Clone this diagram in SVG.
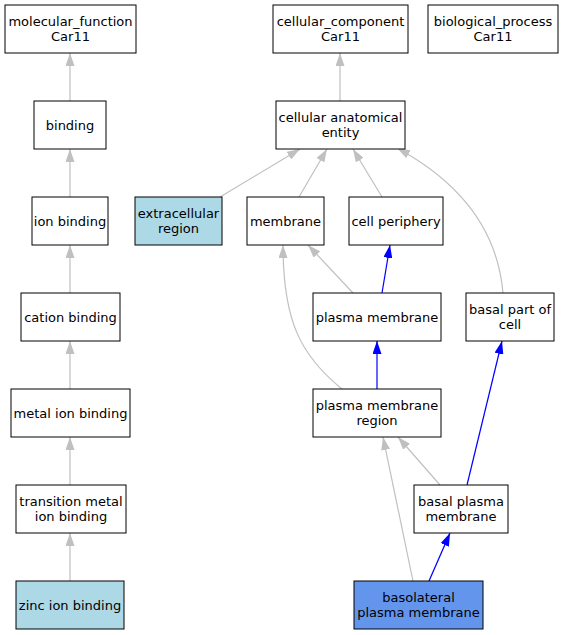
<svg xmlns="http://www.w3.org/2000/svg" width="563" height="635" viewBox="0 0 563 635">
<style>
.n rect{stroke:#000;stroke-width:1;fill:#fff}
.n text{font-family:"DejaVu Sans",sans-serif;font-size:13px;text-anchor:middle;fill:#000}
.g{stroke:#c0c0c0;stroke-width:1.2;fill:none}
.b{stroke:#0000ff;stroke-width:1.2;fill:none}
.g{marker-end:url(#ag)}
.b{marker-end:url(#ab)}
</style>
<defs>
<marker id="ag" viewBox="0 0 13 9" refX="13" refY="4.5" markerWidth="13" markerHeight="9" markerUnits="userSpaceOnUse" orient="auto"><path d="M0,0 L13,4.5 L0,9 z" fill="#c0c0c0"/></marker>
<marker id="ab" viewBox="0 0 13 9" refX="13" refY="4.5" markerWidth="13" markerHeight="9" markerUnits="userSpaceOnUse" orient="auto"><path d="M0,0 L13,4.5 L0,9 z" fill="#0000ff"/></marker>
</defs>
<rect width="563" height="635" fill="#fff"/>
<g id="edges">
<path class="g" d="M70,101 L70,53"/>
<path class="g" d="M70,197 L70,149"/>
<path class="g" d="M70,293 L70,245"/>
<path class="g" d="M70,389 L70,341"/>
<path class="g" d="M70,485 L70,437"/>
<path class="g" d="M70,581 L70,533"/>
<path class="g" d="M340,101 L340,53"/>
<path class="g" d="M220,197 L300,149"/>
<path class="g" d="M299,197 L327,149"/>
<path class="g" d="M382,197 L353,149"/>
<path class="g" d="M503,293 C498,235 465,185 397,148"/>
<path class="g" d="M353,293 L308,245"/>
<path class="b" d="M382,293 L390,245"/>
<path class="g" d="M342,389 C300,355 283,320 283,245"/>
<path class="b" d="M377,389 L377,341"/>
<path class="b" d="M467,485 L502,341"/>
<path class="g" d="M440,485 L398,437"/>
<path class="g" d="M413,581 L383,437"/>
<path class="b" d="M429,581 L450,533"/>
</g>
<g id="mf" class="n"><rect x="5" y="5" width="131" height="48"/><text x="70.5" y="25.7">molecular_function</text><text x="70.5" y="41.3">Car11</text></g>
<g id="cc" class="n"><rect x="273" y="5" width="135" height="48"/><text x="340.5" y="25.7">cellular_component</text><text x="340.5" y="41.3">Car11</text></g>
<g id="bp" class="n"><rect x="428" y="5" width="130" height="48"/><text x="493" y="25.7">biological_process</text><text x="493" y="41.3">Car11</text></g>
<g id="binding" class="n"><rect x="34" y="101" width="72" height="48"/><text x="70" y="129.5">binding</text></g>
<g id="cae" class="n"><rect x="276" y="101" width="129" height="48"/><text x="340.5" y="121.7">cellular anatomical</text><text x="340.5" y="137.3">entity</text></g>
<g id="ionb" class="n"><rect x="32" y="197" width="76" height="48"/><text x="70" y="225.5">ion binding</text></g>
<g id="extra" class="n"><rect x="135" y="197" width="87" height="48" style="fill:#add8e6"/><text x="178.5" y="217.7">extracellular</text><text x="178.5" y="233.3">region</text></g>
<g id="membrane" class="n"><rect x="247" y="197" width="77" height="48"/><text x="285.5" y="225.5">membrane</text></g>
<g id="cellp" class="n"><rect x="349" y="197" width="94" height="48"/><text x="396" y="225.5">cell periphery</text></g>
<g id="cation" class="n"><rect x="21" y="293" width="99" height="48"/><text x="70.5" y="321.5">cation binding</text></g>
<g id="pm" class="n"><rect x="313" y="293" width="128" height="48"/><text x="377" y="321.5">plasma membrane</text></g>
<g id="basalpart" class="n"><rect x="466" y="293" width="88" height="48"/><text x="510" y="313.7">basal part of</text><text x="510" y="329.3">cell</text></g>
<g id="metal" class="n"><rect x="11" y="389" width="119" height="48"/><text x="70.5" y="417.5">metal ion binding</text></g>
<g id="pmr" class="n"><rect x="313" y="389" width="128" height="48"/><text x="377" y="409.7">plasma membrane</text><text x="377" y="425.3">region</text></g>
<g id="trans" class="n"><rect x="16" y="485" width="110" height="48"/><text x="71" y="505.7">transition metal</text><text x="71" y="521.3">ion binding</text></g>
<g id="bpm" class="n"><rect x="414" y="485" width="94" height="48"/><text x="461" y="505.7">basal plasma</text><text x="461" y="521.3">membrane</text></g>
<g id="zinc" class="n"><rect x="16" y="581" width="108" height="48" style="fill:#add8e6"/><text x="70" y="609.5">zinc ion binding</text></g>
<g id="basolat" class="n"><rect x="354" y="581" width="129" height="48" style="fill:#6495ed"/><text x="418.5" y="601.7">basolateral</text><text x="418.5" y="617.3">plasma membrane</text></g>
</svg>
